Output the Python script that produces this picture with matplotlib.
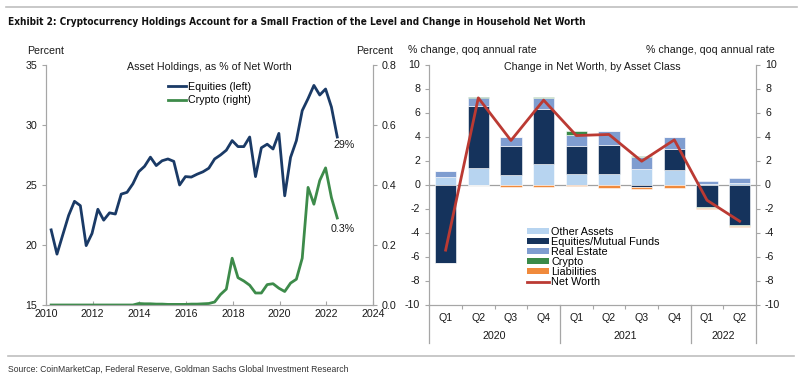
import matplotlib
matplotlib.use("Agg")
import matplotlib.pyplot as plt
import numpy as np
from matplotlib.lines import Line2D
from matplotlib.patches import Patch

plt.rcParams["font.family"] = ["Liberation Sans", "DejaVu Sans"]
plt.rcParams["axes.unicode_minus"] = False

# ---- left panel: quarterly holdings, 2010Q1 .. 2022Q2 ----
equities = [21.26, 19.24, 20.86, 22.47, 23.64, 23.28, 19.95, 20.96, 22.98, 22.07,
            22.68, 22.58, 24.24, 24.39, 25.1, 26.11, 26.56, 27.32, 26.62, 27.02,
            27.17, 26.97, 25.0, 25.7, 25.66, 25.9, 26.1, 26.4, 27.17, 27.5,
            27.9, 28.7, 28.2, 28.2, 29.0, 25.7, 28.1, 28.4, 28.0, 29.3,
            24.1, 27.3, 28.7, 31.2, 32.2, 33.3, 32.5, 33.0, 31.5, 29.0]
crypto = [0.0] * 15 + [0.005, 0.004, 0.004, 0.003, 0.003, 0.002, 0.002, 0.002, 0.002,
                       0.003, 0.003, 0.004, 0.005, 0.01, 0.035, 0.053, 0.156, 0.091,
                       0.08, 0.066, 0.04, 0.04, 0.068, 0.071, 0.056, 0.045, 0.073,
                       0.086, 0.156, 0.392, 0.336, 0.415, 0.457, 0.358, 0.29]
first_qtr = 2010.22
qtr_x = first_qtr + 0.25 * np.arange(len(equities))

# ---- right panel: change in net worth by asset class ----
quarters = ["Q1", "Q2", "Q3", "Q4", "Q1", "Q2", "Q3", "Q4", "Q1", "Q2"]
years = ["2020", "2021", "2022"]
year_counts = [4, 4, 2]
other_assets = [0.6, 1.35, 0.8, 1.75, 0.85, 0.85, 1.27, 1.2, 0.05, 0.15]
equity_funds = [-6.5, 5.2, 2.45, 4.55, 2.35, 2.45, -0.17, 1.72, -1.9, -3.35]
real_estate = [0.55, 0.7, 0.67, 0.92, 0.95, 1.12, 1.03, 1.02, 0.28, 0.38]
crypto_chg = [0.0, 0.02, 0.0, 0.1, 0.28, 0.03, 0.1, 0.06, -0.08, -0.07]
liabilities = [-0.05, -0.02, -0.2, -0.2, -0.1, -0.25, -0.22, -0.25, -0.05, -0.15]
net_worth = [-5.47, 7.22, 3.67, 7.03, 4.08, 4.17, 1.94, 3.72, -1.31, -3.06]

NAVY = "#1a3a66"
GREEN = "#3d8b4a"
SPINE = "#a6a6a6"
TXT = "#1a1a1a"
FS = 7.7

fig = plt.figure(figsize=(8, 3.82), dpi=100)

# frame lines + title + source
fig.add_artist(Line2D([0.008, 0.996], [1 - 7 / 382, 1 - 7 / 382], color="#bfbfbf", lw=1.2))
fig.add_artist(Line2D([0.01, 0.992], [1 - 356 / 382, 1 - 356 / 382], color="#bfbfbf", lw=1.2))
fig.text(0.01, 1 - 22 / 382, "Exhibit 2: Cryptocurrency Holdings Account for a Small Fraction of the "
         "Level and Change in Household Net Worth", fontsize=7.2, fontweight="bold",
         family="DejaVu Sans", fontstretch="condensed", va="center", color="#111111")
fig.text(0.01, 1 - 369 / 382, "Source: CoinMarketCap, Federal Reserve, Goldman Sachs Global Investment Research",
         fontsize=6.2, va="center", color="#333333")

# ---------------- left ----------------
ax = fig.add_axes([46 / 800, 1 - 305 / 382, 327 / 800, 240 / 382])
ax2 = ax.twinx()
ax.plot(qtr_x, equities, color=NAVY, lw=2.0, label="Equities (left)")
ax2.plot(qtr_x, crypto, color=GREEN, lw=2.0, label="Crypto (right)")
ax.set_xlim(2010, 2024)
ax.set_ylim(15, 35)
ax2.set_ylim(0, 0.8)
ax.set_xticks(range(2010, 2025, 2))
ax.set_yticks([15, 20, 25, 30, 35])
ax2.set_yticks([0.0, 0.2, 0.4, 0.6, 0.8])
ax2.set_yticklabels(["0.0", "0.2", "0.4", "0.6", "0.8"])
for a in (ax, ax2):
    for s in a.spines.values():
        s.set_color(SPINE)
    a.spines["top"].set_visible(False)
    a.tick_params(colors=SPINE, labelcolor=TXT, labelsize=FS, length=3, width=0.8)
ax.tick_params(axis="x", direction="in", pad=3)
ax.text(-0.058, 1.06, "Percent", transform=ax.transAxes, fontsize=FS, ha="left", va="center", color=TXT)
ax.text(1.061, 1.06, "Percent", transform=ax.transAxes, fontsize=FS, ha="right", va="center", color=TXT)
ax.text(0.5, 0.99, "Asset Holdings, as % of Net Worth", transform=ax.transAxes, fontsize=FS,
        ha="center", va="center", color=TXT)
ax.text(2022.75, 28.3, "29%", fontsize=FS, ha="center", va="center", color=TXT)
ax2.text(2022.7, 0.255, "0.3%", fontsize=FS, ha="center", va="center", color=TXT)
h1, l1 = ax.get_legend_handles_labels()
h2, l2 = ax2.get_legend_handles_labels()
ax.legend(h1 + h2, l1 + l2, loc="upper left", bbox_to_anchor=(0.35, 0.96), frameon=False,
          fontsize=FS, handlelength=1.7, handletextpad=0.15, labelspacing=0.3, borderpad=0.2)

# ---------------- right ----------------
bx = fig.add_axes([429.3 / 800, 1 - 304.5 / 382, 326.7 / 800, 240 / 382])
bx2 = bx.twinx()
pos = np.arange(len(quarters))
series = [("Other Assets", other_assets, "#b7d4f0"),
          ("Equities/Mutual Funds", equity_funds, "#15335c"),
          ("Real Estate", real_estate, "#7f9dd0"),
          ("Crypto", crypto_chg, "#3a8a48"),
          ("Liabilities", liabilities, "#f08a3c")]
up = np.zeros(len(quarters))
down = np.zeros(len(quarters))
handles = []
for name, vals, col in series:
    v = np.asarray(vals)
    base = np.where(v >= 0, up, down)
    bx.bar(pos, v, 0.66, bottom=base, color=col, edgecolor="white", linewidth=0.4, zorder=2)
    up = up + np.clip(v, 0, None)
    down = down + np.clip(v, None, 0)
    handles.append(Patch(facecolor=col, edgecolor="none", label=name))
bx.axhline(0, color="#a0a0a0", lw=0.9, zorder=1)
bx.plot(pos, net_worth, color="#bb3a33", lw=2.0, zorder=3)
handles.append(Line2D([], [], color="#bb3a33", lw=2.0, label="Net Worth"))
bx.legend(handles=handles, loc="upper left", bbox_to_anchor=(0.28, 0.35), frameon=False,
          fontsize=7.8, handlelength=2.0, handleheight=0.5, handletextpad=0.2, labelspacing=0.0,
          borderpad=0.1)

bx.set_xlim(-0.5, len(quarters) - 0.5)
for a in (bx, bx2):
    a.set_ylim(-10, 10)
    a.set_yticks(range(-10, 11, 2))
    for s in a.spines.values():
        s.set_color(SPINE)
    a.spines["top"].set_visible(False)
    a.tick_params(colors=SPINE, labelcolor=TXT, labelsize=FS, length=3, width=0.8)
bx.set_xticks(pos)
bx.set_xticklabels(quarters)
bx.set_xticks(pos[:-1] + 0.5, minor=True)
bx.tick_params(axis="x", which="major", length=0, pad=6)
bx.tick_params(axis="x", which="minor", length=3, width=0.8, color=SPINE)
edges = np.concatenate([[0], np.cumsum(year_counts)]) - 0.5
xt = bx.get_xaxis_transform()
for e in edges:
    bx.plot([e, e], [0, -0.16], color=SPINE, lw=0.9, transform=xt, clip_on=False)
for i, yr in enumerate(years):
    bx.text((edges[i] + edges[i + 1]) / 2, -0.132, yr, transform=xt, fontsize=FS,
            ha="center", va="center", color=TXT)
bx.text(-0.065, 1.06, "% change, qoq annual rate", transform=bx.transAxes, fontsize=FS,
        ha="left", va="center", color=TXT)
bx.text(1.058, 1.06, "% change, qoq annual rate", transform=bx.transAxes, fontsize=FS,
        ha="right", va="center", color=TXT)
bx.text(0.5, 0.99, "Change in Net Worth, by Asset Class", transform=bx.transAxes, fontsize=FS,
        ha="center", va="center", color=TXT)

fig.savefig("out.png", dpi=100)
